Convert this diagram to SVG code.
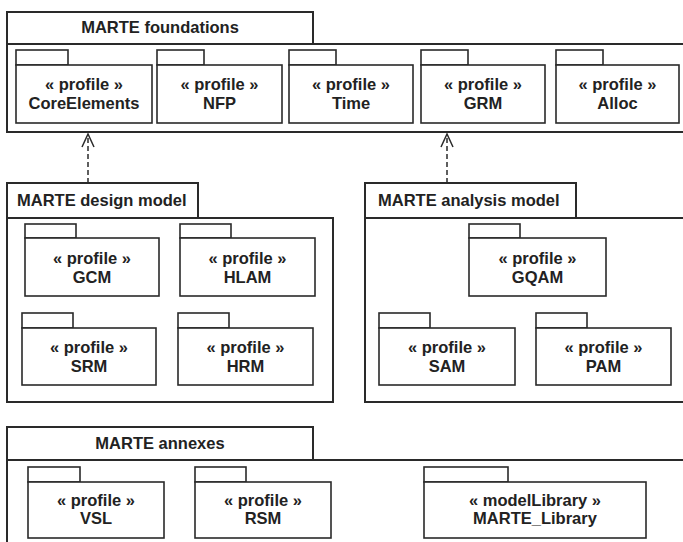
<svg xmlns="http://www.w3.org/2000/svg" width="683" height="542" viewBox="0 0 683 542">
<style>
  .outer { fill: #fff; stroke: #2a2a2a; stroke-width: 2; }
  .inner { fill: #fff; stroke: #2a2a2a; stroke-width: 1.6; }
  text { font-family: "Liberation Sans", Arial, sans-serif; font-weight: bold; font-size: 16.5px; fill: #222; }
  .c { text-anchor: middle; }
  .dep { fill: none; stroke: #2a2a2a; stroke-width: 1.5; stroke-dasharray: 5 3; }
  .head { fill: none; stroke: #2a2a2a; stroke-width: 1.5; }
</style>
<rect width="683" height="542" fill="#fff"/>

<!-- MARTE foundations -->
<g id="foundations">
  <rect class="outer" x="7" y="12" width="306" height="32"/>
  <rect class="outer" x="7" y="44" width="690" height="88"/>
  <text class="c" x="160" y="33">MARTE foundations</text>
</g>
<g id="CoreElements">
  <rect class="inner" x="16" y="50" width="52" height="15"/>
  <rect class="inner" x="16" y="65" width="136" height="58"/>
  <text class="c" x="84" y="90">« profile »</text>
  <text class="c" x="84" y="109">CoreElements</text>
</g>
<g id="NFP">
  <rect class="inner" x="157" y="50" width="47" height="15"/>
  <rect class="inner" x="157" y="65" width="125" height="58"/>
  <text class="c" x="219.5" y="90">« profile »</text>
  <text class="c" x="219.5" y="109">NFP</text>
</g>
<g id="Time">
  <rect class="inner" x="289" y="50" width="47" height="15"/>
  <rect class="inner" x="289" y="65" width="124" height="58"/>
  <text class="c" x="351" y="90">« profile »</text>
  <text class="c" x="351" y="109">Time</text>
</g>
<g id="GRM">
  <rect class="inner" x="421" y="50" width="47" height="15"/>
  <rect class="inner" x="421" y="65" width="124" height="58"/>
  <text class="c" x="483" y="90">« profile »</text>
  <text class="c" x="483" y="109">GRM</text>
</g>
<g id="Alloc">
  <rect class="inner" x="556" y="50" width="47" height="15"/>
  <rect class="inner" x="556" y="65" width="123" height="58"/>
  <text class="c" x="617.5" y="90">« profile »</text>
  <text class="c" x="617.5" y="109">Alloc</text>
</g>

<!-- MARTE design model -->
<g id="design">
  <rect class="outer" x="7" y="183" width="191" height="35"/>
  <rect class="outer" x="7" y="218" width="326" height="184"/>
  <text x="17" y="206">MARTE design model</text>
</g>
<g id="GCM">
  <rect class="inner" x="25" y="224" width="51" height="14"/>
  <rect class="inner" x="25" y="238" width="134" height="58"/>
  <text class="c" x="92" y="264">« profile »</text>
  <text class="c" x="92" y="283">GCM</text>
</g>
<g id="HLAM">
  <rect class="inner" x="180" y="224" width="51" height="14"/>
  <rect class="inner" x="180" y="238" width="135" height="58"/>
  <text class="c" x="247.5" y="264">« profile »</text>
  <text class="c" x="247.5" y="283">HLAM</text>
</g>
<g id="SRM">
  <rect class="inner" x="22" y="313" width="51" height="15"/>
  <rect class="inner" x="22" y="328" width="134" height="57"/>
  <text class="c" x="89" y="353">« profile »</text>
  <text class="c" x="89" y="372">SRM</text>
</g>
<g id="HRM">
  <rect class="inner" x="178" y="313" width="51" height="15"/>
  <rect class="inner" x="178" y="328" width="135" height="57"/>
  <text class="c" x="245.5" y="353">« profile »</text>
  <text class="c" x="245.5" y="372">HRM</text>
</g>

<!-- MARTE analysis model -->
<g id="analysis">
  <rect class="outer" x="365" y="183" width="211" height="35"/>
  <rect class="outer" x="365" y="218" width="330" height="184"/>
  <text x="378" y="206">MARTE analysis model</text>
</g>
<g id="GQAM">
  <rect class="inner" x="469" y="224" width="51" height="14"/>
  <rect class="inner" x="469" y="238" width="137" height="58"/>
  <text class="c" x="537.5" y="264">« profile »</text>
  <text class="c" x="537.5" y="283">GQAM</text>
</g>
<g id="SAM">
  <rect class="inner" x="379" y="313" width="51" height="15"/>
  <rect class="inner" x="379" y="328" width="136" height="57"/>
  <text class="c" x="447" y="353">« profile »</text>
  <text class="c" x="447" y="372">SAM</text>
</g>
<g id="PAM">
  <rect class="inner" x="536" y="313" width="51" height="15"/>
  <rect class="inner" x="536" y="328" width="135" height="57"/>
  <text class="c" x="603.5" y="353">« profile »</text>
  <text class="c" x="603.5" y="372">PAM</text>
</g>

<!-- MARTE annexes -->
<g id="annexes">
  <rect class="outer" x="7" y="427" width="306" height="33"/>
  <rect class="outer" x="7" y="460" width="690" height="100"/>
  <text class="c" x="160" y="449">MARTE annexes</text>
</g>
<g id="VSL">
  <rect class="inner" x="28" y="467" width="52" height="15"/>
  <rect class="inner" x="28" y="482" width="136" height="56"/>
  <text class="c" x="96" y="506">« profile »</text>
  <text class="c" x="96" y="524">VSL</text>
</g>
<g id="RSM">
  <rect class="inner" x="195" y="467" width="51" height="15"/>
  <rect class="inner" x="195" y="482" width="136" height="56"/>
  <text class="c" x="263" y="506">« profile »</text>
  <text class="c" x="263" y="524">RSM</text>
</g>
<g id="MARTE_Library">
  <rect class="inner" x="424" y="467" width="84" height="15"/>
  <rect class="inner" x="424" y="482" width="222" height="56"/>
  <text class="c" x="535" y="506">« modelLibrary »</text>
  <text class="c" x="535" y="524">MARTE_Library</text>
</g>

<!-- connectors -->
<g id="connectors">
  <line class="dep" x1="88" y1="183" x2="88" y2="135"/>
  <polyline class="head" points="82,147 88,134 94,147"/>
  <line class="dep" x1="447" y1="183" x2="447" y2="135"/>
  <polyline class="head" points="441,147 447,134 453,147"/>
</g>
</svg>
